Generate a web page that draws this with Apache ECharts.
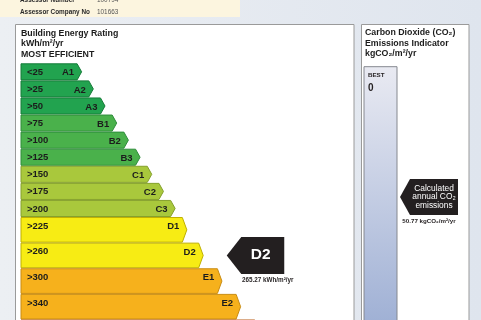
<!DOCTYPE html>
<html><head><meta charset="utf-8">
<script src="https://cdn.jsdelivr.net/npm/echarts@6/dist/echarts.min.js"></script>
<style>html,body{margin:0;padding:0;background:#e6ebf1}#c{width:481px;height:320px}</style>
</head><body><div id="c"></div>
<script>
// ---- data ----
const grades = ['A1','A2','A3','B1','B2','B3','C1','C2','C3','D1','D2','E1','E2','F'];
const thresholdLabels = ['<25','>25','>50','>75','>100','>125','>150','>175','>200','>225','>260','>300','>340','>380'];
const lowerBounds = [0,25,50,75,100,125,150,175,200,225,260,300,340,380];
const ratingGrade = 'D2';
const ratingValue = 265.27;
const co2Value = 50.77;
const co2ScaleMax = 98;

// ---- styles ----
const FONT = '"Liberation Sans", Arial, "DejaVu Sans", sans-serif';
const fills = {A:'#22a34f', B:'#4ab14b', C:'#a9c83c', D:'#f7ec14', E:'#f6b11c', F:'#ef7d22', G:'#e3201b'};
const strokes = {A:'#167c39', B:'#2f8d3b', C:'#85a02c', D:'#bfb000', E:'#c98c12', F:'#b85a14', G:'#a01010'};
const weight = g => 'ABC'.includes(g[0]) ? 1 : 1.5;
let acc = 0;
const rows = grades.map((g, i) => { const s = acc; acc += weight(g); return [lowerBounds[i], s, acc, i]; });
const ratingIdx = grades.indexOf(ratingGrade);

function renderBand(params, api) {
  const i = api.value(3);
  const g = grades[i];
  const x0 = params.coordSys.x;
  const xEnd = api.coord([api.value(0), 0])[0];
  const top = api.coord([0, api.value(1)])[1] + 0.5;
  const bot = api.coord([0, api.value(2)])[1] - 0.5;
  const mid = (top + bot) / 2;
  const tip = 4.5;
  return {type:'group', children:[
    {type:'polygon', shape:{points:[[x0,top],[xEnd,top],[xEnd+tip,mid],[xEnd,bot],[x0,bot]]},
     style:{fill:fills[g[0]], stroke:strokes[g[0]], lineWidth:1}},
    {type:'text', style:{text:thresholdLabels[i], x:x0+6, y:top+8.5, verticalAlign:'middle',
      fontSize:9.5, fontWeight:'bold', fontFamily:FONT, fill:'#1c1c1c'}},
    {type:'text', style:{text:g, x:xEnd-3, y:top+9, align:'right', verticalAlign:'middle',
      fontSize:9.5, fontWeight:'bold', fontFamily:FONT, fill:'#1c1c1c'}}
  ]};
}

function renderRating(params, api) {
  const top = api.coord([0, api.value(0)])[1];
  const bot = api.coord([0, api.value(1)])[1];
  const cy = (top + bot) / 2;
  const tipX = api.coord([320, 0])[0];
  const bl = tipX + 14.5, br = bl + 43, h = 18.5;
  return {type:'group', children:[
    {type:'polygon', shape:{points:[[tipX,cy],[bl,cy-h],[br,cy-h],[br,cy+h],[bl,cy+h]]}, style:{fill:'#231f20'}},
    {type:'text', style:{text:ratingGrade, x:(bl+br)/2 - 2, y:cy - 0.5, align:'center', verticalAlign:'middle',
      fontSize:15.5, fontWeight:'bold', fontFamily:FONT, fill:'#ffffff'}},
    {type:'text', style:{text:api.value(2).toFixed(2) + ' kWh/m²/yr', x:(bl+br)/2 + 5, y:cy + 25, align:'center', verticalAlign:'middle',
      fontSize:6.3, fontWeight:'bold', fontFamily:FONT, fill:'#231f20'}}
  ]};
}

function renderCo2Bar(params, api) {
  const cs = params.coordSys;
  const y0 = api.coord([0, api.value(0)])[1];
  const y1 = api.coord([0, api.value(1)])[1] + 20;
  return {type:'group', children:[
    {type:'rect', shape:{x:cs.x, y:y0, width:cs.width, height:y1-y0},
     style:{fill:new echarts.graphic.LinearGradient(0,0,0,1,[{offset:0,color:'#e9eaf2'},{offset:1,color:'#9badd3'}]),
            stroke:'#85888f', lineWidth:1}},
    {type:'text', style:{text:'BEST', x:cs.x+4, y:y0+8.5, verticalAlign:'middle', fontSize:6.2, fontWeight:'bold', fontFamily:FONT, fill:'#231f20'}},
    {type:'text', style:{text:String(api.value(0)), x:cs.x+4, y:y0+21.5, verticalAlign:'middle', fontSize:10, fontWeight:'bold', fontFamily:FONT, fill:'#231f20'}}
  ]};
}

function renderCo2Arrow(params, api) {
  const cs = params.coordSys;
  const cy = api.coord([0, api.value(0)])[1];
  const tipX = cs.x + cs.width + 3;
  const bl = tipX + 10, br = bl + 48, h = 18;
  const cx = (bl + br) / 2;
  const t = (s, y) => ({type:'text', style:{text:s, x:cx, y:y, align:'center', verticalAlign:'middle',
      fontSize:8.4, fontFamily:FONT, fill:'#ffffff'}});
  return {type:'group', children:[
    {type:'polygon', shape:{points:[[tipX,cy],[bl,cy-h],[br,cy-h],[br,cy+h],[bl,cy+h]]}, style:{fill:'#231f20'}},
    t('Calculated', cy-8.5), t('annual CO₂', cy), t('emissions', cy+8.5),
    {type:'text', style:{text:api.value(0).toFixed(2) + ' kgCO₂/m²/yr', x:cx-5, y:cy+24, align:'center', verticalAlign:'middle',
      fontSize:6.2, fontWeight:'bold', fontFamily:FONT, fill:'#231f20'}}
  ]};
}

const txt = (s, x, y, size, bold, color) => ({type:'text', x:x, y:y, style:{text:s, fontSize:size, fontWeight:bold?'bold':'normal',
  fontFamily:FONT, fill:color||'#1c1c1c', verticalAlign:'middle'}});

const chart = echarts.init(document.getElementById('c'), null, {renderer:'canvas'});
chart.setOption({
  animation:false,
  backgroundColor: new echarts.graphic.LinearGradient(0,0,1,0,[{offset:0,color:'#eceff3'},{offset:1,color:'#dfe5ee'}]),
  graphic:[
    {type:'rect', shape:{x:0, y:-5, width:240, height:22}, style:{fill:'#fcf5df'}},
    txt('Assessor Number', 20, 0.5, 6.4, true, '#2a2a2a'),
    txt('100794', 97, 0.5, 6.4, false, '#555'),
    txt('Assessor Company No', 20, 12.3, 6.4, true, '#2a2a2a'),
    txt('101663', 97, 12.3, 6.4, false, '#555'),
    {type:'rect', shape:{x:15.5, y:24.5, width:338.5, height:320}, style:{fill:'#ffffff', stroke:'#9a9a9a', lineWidth:1}},
    {type:'rect', shape:{x:361.5, y:24.5, width:107.5, height:320}, style:{fill:'#ffffff', stroke:'#9a9a9a', lineWidth:1}},
    txt('Building Energy Rating', 21, 33.7, 8.8, true),
    txt('kWh/m²/yr', 21, 44, 8.8, true),
    txt('MOST EFFICIENT', 21, 54.3, 8.8, true),
    txt('Carbon Dioxide (CO₂)', 365, 32.5, 8.8, true),
    txt('Emissions Indicator', 365, 43.3, 8.8, true),
    txt('kgCO₂/m²/yr', 365, 54, 8.8, true)
  ],
  grid:[
    {left:21, top:63.3, width:336.7, height:256.2},
    {left:364, top:66.7, width:33, height:co2ScaleMax*2.566}
  ],
  xAxis:[
    {type:'value', gridIndex:0, min:-120, max:600, show:false},
    {type:'value', gridIndex:1, min:0, max:1, show:false}
  ],
  yAxis:[
    {type:'value', gridIndex:0, min:0, max:15, inverse:true, show:false},
    {type:'value', gridIndex:1, min:0, max:co2ScaleMax, inverse:true, show:false}
  ],
  series:[
    {type:'custom', xAxisIndex:0, yAxisIndex:0, renderItem:renderBand, data:rows, silent:true, clip:false},
    {type:'custom', xAxisIndex:0, yAxisIndex:0, renderItem:renderRating, z:5,
     data:[[rows[ratingIdx][1], rows[ratingIdx][2], ratingValue]], silent:true},
    {type:'custom', xAxisIndex:1, yAxisIndex:1, renderItem:renderCo2Bar, data:[[0, co2ScaleMax]], silent:true, clip:false},
    {type:'custom', xAxisIndex:1, yAxisIndex:1, renderItem:renderCo2Arrow, data:[[co2Value]], silent:true, z:5}
  ]
});
</script></body></html>
